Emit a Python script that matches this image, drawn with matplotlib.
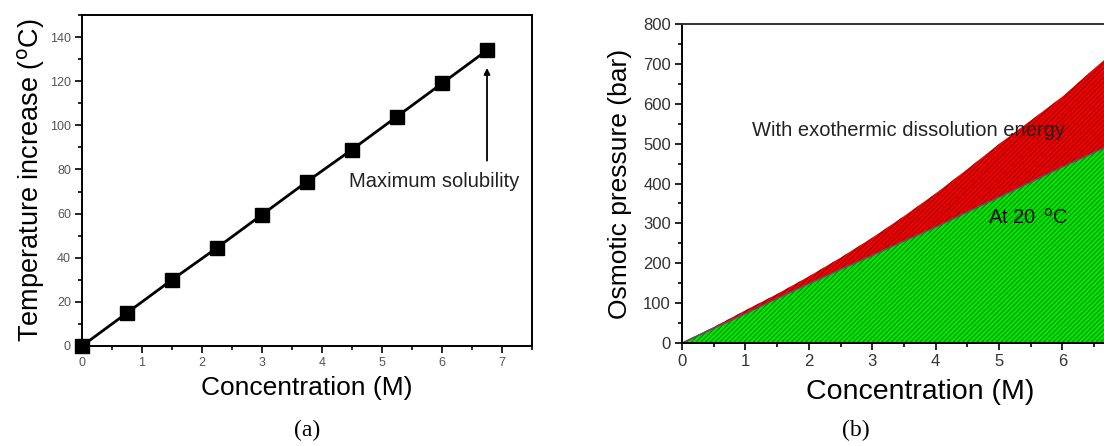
import matplotlib
matplotlib.use("Agg")
import matplotlib.pyplot as plt
from matplotlib.ticker import MultipleLocator

plt.rcParams['font.family'] = ['Liberation Sans', 'DejaVu Sans']
plt.rcParams['hatch.linewidth'] = 0.8

# Panel (a) data
conc_a = [0, 0.75, 1.5, 2.25, 3.0, 3.75, 4.5, 5.25, 6.0, 6.75]
temp_increase = [0, 15, 30, 44.5, 59.5, 74.5, 89, 104, 119, 134]

# Panel (b) data
conc_b = [0, 0.5, 1, 1.5, 2, 2.5, 3, 3.5, 4, 4.5, 5, 5.5, 6, 6.5, 7]
press_20C = [0, 37, 74, 112, 149, 185, 220, 256, 291, 329, 366, 404, 442, 478, 515]
press_exo = [0, 40, 82, 123, 167, 214, 264, 318, 375, 436, 499, 558, 618, 688, 757]
xticks_b = [0, 1, 2, 3, 4, 5, 6]

W, H = 1104, 446
fig = plt.figure(figsize=(W / 100, H / 100), dpi=100)

def frac(l, t, r, b):
    return [l / W, 1 - b / H, (r - l) / W, (b - t) / H]

# ---------- Panel (a) ----------
ax1 = fig.add_axes(frac(82, 15, 532, 346))
ax1.plot(conc_a, temp_increase, color='black', lw=2, marker='s', ms=10,
         mfc='black', mec='black', zorder=3, clip_on=False)
ax1.set_xlim(0, 7.5)
ax1.set_ylim(0, 150)
ax1.xaxis.set_major_locator(MultipleLocator(1))
ax1.xaxis.set_minor_locator(MultipleLocator(0.5))
ax1.yaxis.set_major_locator(MultipleLocator(20))
ax1.yaxis.set_minor_locator(MultipleLocator(10))
ax1.tick_params(which='major', direction='out', length=5, width=1.2,
                labelsize=9, labelcolor='#555555', pad=3)
ax1.tick_params(which='minor', direction='out', length=3, width=1.2)
for s in ax1.spines.values():
    s.set_linewidth(1.4)
ax1.set_xlabel('Concentration (M)', fontsize=19, labelpad=5)
ax1.set_ylabel(r'Temperature increase ($^{\mathrm{o}}$C)', fontsize=19.5, labelpad=2)
ax1.annotate('', xy=(6.75, 126), xytext=(6.75, 84),
             arrowprops=dict(arrowstyle='-|>', color='black', lw=1.3,
                             mutation_scale=9, shrinkA=0, shrinkB=0))
ax1.text(4.45, 74.5, 'Maximum solubility', fontsize=14.5, va='center', ha='left',
         color='#222222')

# ---------- Panel (b) ----------
ax2 = fig.add_axes(frac(682, 24, 682 + 7.5 * 63.4, 343))
ax2.fill_between(conc_b, press_20C, press_exo, facecolor='#f40000',
                 edgecolor='#9a0000', linewidth=0, hatch='///////', zorder=1)
ax2.fill_between(conc_b, 0, press_20C, facecolor='#00e800',
                 edgecolor='#008a00', linewidth=0, hatch='///////', zorder=1)
ax2.plot(conc_b, press_20C, color='#555555', lw=1.2, zorder=2)
ax2.set_xlim(0, 7.5)
ax2.set_ylim(0, 800)
ax2.set_xticks(xticks_b)
ax2.xaxis.set_minor_locator(MultipleLocator(0.5))
ax2.yaxis.set_major_locator(MultipleLocator(100))
ax2.yaxis.set_minor_locator(MultipleLocator(50))
ax2.tick_params(which='major', direction='out', length=5, width=1.2,
                labelsize=12, labelcolor='#333333', pad=3)
ax2.tick_params(which='minor', direction='out', length=3, width=1.2)
for s in ax2.spines.values():
    s.set_linewidth(1.4)
ax2.spines['top'].set_color('#333333')
ax2.set_xlabel('Concentration (M)', fontsize=20.5, labelpad=7)
ax2.set_ylabel('Osmotic pressure (bar)', fontsize=19, labelpad=8)
ax2.text(1.1, 534, 'With exothermic dissolution energy', fontsize=14.5,
         va='center', ha='left', color='#222222', zorder=4)
ax2.text(4.83, 315, r'At 20 $^{\,\mathrm{o}}$C', fontsize=14.5,
         va='center', ha='left', color='#111111', zorder=4)

# Captions
fig.text(307 / W, 1 - 430 / H, '(a)', fontsize=17, ha='center', va='center',
         family=['Liberation Serif', 'DejaVu Serif'])
fig.text(856 / W, 1 - 430 / H, '(b)', fontsize=17, ha='center', va='center',
         family=['Liberation Serif', 'DejaVu Serif'])

fig.savefig('out.png', dpi=100)
